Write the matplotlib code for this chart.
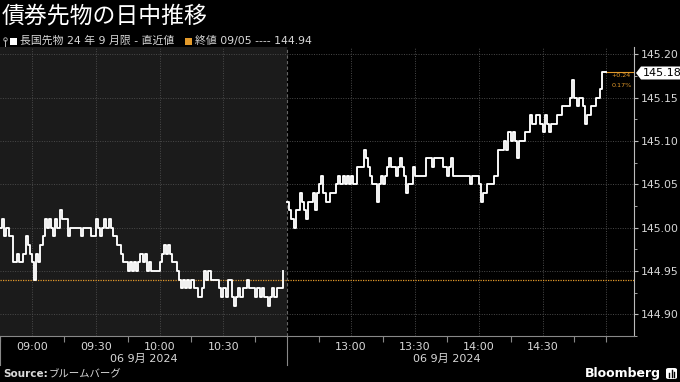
import matplotlib.pyplot as plt
import numpy as np
from matplotlib.lines import Line2D
from matplotlib.patches import Rectangle, FancyBboxPatch, Polygon

# 前場 08:45-10:58, 1分刻み
am_start = "08:45"
am_prices = [
    145.00, 145.01, 144.99, 145.00, 144.99, 144.99, 144.96, 144.96, 144.97, 144.96,
    144.96, 144.97, 144.99, 144.98, 144.97, 144.96, 144.94, 144.97, 144.96, 144.98,
    144.99, 145.01, 145.00, 145.01, 145.00, 144.99, 145.01, 145.00, 145.02, 145.01,
    145.01, 145.01, 144.99, 145.00, 145.00, 145.00, 145.00, 145.00, 144.99, 145.00,
    145.00, 145.00, 145.00, 144.99, 144.99, 145.01, 145.00, 144.99, 145.00, 145.01,
    145.00, 145.01, 145.00, 144.99, 144.99, 144.98, 144.98, 144.97, 144.96, 144.96,
    144.95, 144.96, 144.95, 144.96, 144.95, 144.96, 144.97, 144.96, 144.97, 144.95,
    144.96, 144.95, 144.95, 144.95, 144.95, 144.96, 144.97, 144.98, 144.97, 144.98,
    144.97, 144.96, 144.96, 144.95, 144.94, 144.93, 144.94, 144.93, 144.94, 144.93,
    144.94, 144.93, 144.93, 144.92, 144.92, 144.93, 144.95, 144.94, 144.95, 144.94,
    144.94, 144.94, 144.94, 144.93, 144.92, 144.93, 144.92, 144.94, 144.94, 144.92,
    144.91, 144.92, 144.93, 144.92, 144.93, 144.93, 144.94, 144.93, 144.93, 144.93,
    144.92, 144.93, 144.92, 144.93, 144.92, 144.92, 144.91, 144.92, 144.93, 144.92,
    144.93, 144.93, 144.93, 144.95,
]

# 後場 12:30-15:00, 1分刻み
pm_start = "12:30"
pm_prices = [
    145.03, 145.02, 145.01, 145.00, 145.02, 145.02, 145.04, 145.03, 145.02, 145.01,
    145.03, 145.03, 145.04, 145.02, 145.04, 145.05, 145.06, 145.04, 145.03, 145.03,
    145.04, 145.04, 145.04, 145.05, 145.06, 145.05, 145.06, 145.05, 145.06, 145.05,
    145.06, 145.05, 145.05, 145.07, 145.07, 145.07, 145.09, 145.08, 145.07, 145.06,
    145.05, 145.05, 145.03, 145.05, 145.06, 145.05, 145.06, 145.07, 145.08, 145.07,
    145.07, 145.06, 145.07, 145.08, 145.07, 145.06, 145.04, 145.05, 145.05, 145.07,
    145.06, 145.06, 145.06, 145.06, 145.06, 145.08, 145.08, 145.08, 145.07, 145.08,
    145.08, 145.08, 145.08, 145.07, 145.07, 145.06, 145.07, 145.08, 145.06, 145.06,
    145.06, 145.06, 145.06, 145.06, 145.06, 145.06, 145.05, 145.06, 145.06, 145.06,
    145.05, 145.03, 145.04, 145.04, 145.05, 145.05, 145.05, 145.06, 145.06, 145.09,
    145.09, 145.09, 145.10, 145.09, 145.11, 145.10, 145.11, 145.10, 145.08, 145.10,
    145.10, 145.10, 145.11, 145.11, 145.13, 145.12, 145.12, 145.13, 145.13, 145.12,
    145.11, 145.13, 145.12, 145.11, 145.12, 145.12, 145.12, 145.13, 145.13, 145.14,
    145.14, 145.14, 145.14, 145.15, 145.17, 145.15, 145.14, 145.15, 145.15, 145.14,
    145.12, 145.13, 145.13, 145.14, 145.14, 145.15, 145.15, 145.16, 145.18, 145.18,
    145.18,
]

prev_close = 144.94
prev_date = "09/05"
last_price = 145.18
change_txt = ["+0.24", "0.17%"]
time_labels = ["09:00", "09:30", "10:00", "10:30", "13:00", "13:30", "14:00", "14:30"]
date_label = "06 9月 2024"
yticks = [144.90, 144.95, 145.00, 145.05, 145.10, 145.15, 145.20]

CJK = ["DejaVu Sans", "Noto Sans CJK JP"]
ORANGE = "#e39a2b"
GRID = "#4a4a4a"
TXT = "#d8d8d8"
W, H = 680, 382


def to_min(s):
    h, m = s.split(":")
    return int(h) * 60 + int(m)


# 昼休みを詰めた横軸(分): 08:45=0, 11:00=12:30=135
AM0 = to_min("08:45")
GAP = to_min("12:30") - to_min("11:00")


def xpos(s):
    t = to_min(s)
    if t >= to_min("12:30"):
        t -= GAP
    return t - AM0


def fpx(x, y):
    # ピクセル座標 -> figure座標
    return x / W, 1 - y / H


am_x = xpos(am_start) + np.arange(len(am_prices))
pm_x = xpos(pm_start) + np.arange(len(pm_prices))
brk = xpos("12:30")

fig = plt.figure(figsize=(6.8, 3.82), dpi=100, facecolor="black")
ax = fig.add_axes([0, 0.1204, 634 / W, 0.7566])
ax.set_facecolor("black")
ax.set_xlim(0, 298)
ax.set_ylim(144.8849, 145.2084)

ax.axvspan(0, brk, color="#1b1b1b", zorder=0, lw=0)
ax.axvline(brk, color="#666666", ls=(0, (3, 2)), lw=0.8, zorder=1)

for y in yticks:
    ax.axhline(y, color=GRID, ls=(0, (1, 1.5)), lw=0.7, zorder=1)
grid_x = [xpos(t) for t in time_labels] + [xpos("15:00")]
for gx in grid_x:
    ax.axvline(gx, color=GRID, ls=(0, (1, 1.5)), lw=0.7, zorder=1)

ax.axhline(prev_close, color=ORANGE, ls=(0, (1, 1)), lw=0.9, zorder=2)

ax.plot(am_x, am_prices, color="white", lw=1.35, zorder=3, drawstyle="steps-post")
ax.plot(pm_x, pm_prices, color="white", lw=1.35, zorder=3, drawstyle="steps-post")

# 直近値の線と変化幅
ax.plot([pm_x[-1], 298], [last_price, last_price], color=ORANGE, lw=0.8, zorder=2)
ax.text(pm_x[-1] + 2.5, last_price - 0.0045, change_txt[0], color=ORANGE,
        fontsize=4.6, va="center", ha="left", zorder=6)
ax.text(pm_x[-1] + 2.5, last_price - 0.016, change_txt[1], color=ORANGE,
        fontsize=4.6, va="center", ha="left", zorder=6)

for side in ["left", "top"]:
    ax.spines[side].set_visible(False)
ax.spines["right"].set_color("#bbbbbb")
ax.spines["bottom"].set_color("#888888")
ax.spines["right"].set_linewidth(0.8)
ax.spines["bottom"].set_linewidth(0.8)

ax.yaxis.tick_right()
ax.set_yticks(yticks)
ax.set_yticklabels([f"{v:.2f}" for v in yticks])
ax.set_yticks(np.arange(144.875, 145.21, 0.025), minor=True)
ax.tick_params(axis="y", which="major", colors="#bbbbbb", labelcolor=TXT,
               length=3, width=0.8, pad=2, labelsize=7.8)
ax.tick_params(axis="y", which="minor", colors="#bbbbbb", length=2, width=0.6)

ax.set_xticks([xpos(t) for t in time_labels])
ax.set_xticklabels(time_labels)
minor_t = ["08:45", "09:15", "09:45", "10:15", "10:45", "12:45", "13:15",
           "13:45", "14:15", "14:45", "15:00"]
ax.set_xticks([xpos(t) for t in minor_t], minor=True)
ax.tick_params(axis="x", which="major", length=0, pad=4, labelcolor=TXT,
               labelsize=8)
ax.tick_params(axis="x", which="minor", length=4, width=0.8, colors="#888888")

# セッション区切り線(軸の下まで)
for sx in [0, brk]:
    ax.add_line(Line2D([sx, sx], [0, -0.1], transform=ax.get_xaxis_transform(),
                       color="#888888", lw=0.8, clip_on=False))

trans = ax.get_xaxis_transform()
ax.text(brk / 2, -0.078, date_label, transform=trans, ha="center", va="center",
        color=TXT, fontsize=8, family=CJK)
ax.text((brk + xpos("15:00")) / 2, -0.078, date_label, transform=trans,
        ha="center", va="center", color=TXT, fontsize=8, family=CJK)

# 直近値ラベル(左向き矢印付きの白い箱)
ly = 73
box = [fpx(636, ly), fpx(641, ly - 6.5), fpx(680, ly - 6.5),
       fpx(680, ly + 6.5), fpx(641, ly + 6.5)]
fig.add_artist(Polygon(box, closed=True, fc="white", ec="none"))
fig.text(*fpx(642.5, ly), f"{last_price:.2f}", color="black",
         fontsize=8, ha="left", va="center")

# タイトルと凡例
fig.text(*fpx(2, 16), "債券先物の日中推移", color="white",
         fontsize=16.5, family=["Noto Sans CJK JP"], va="center", ha="left")

fig.add_artist(Line2D([5 / W, 5 / W], [1 - 40 / H, 1 - 46 / H],
                      color="#bbbbbb", lw=0.7))
fig.add_artist(Line2D([5 / W], [1 - 39 / H], marker="o", ms=2.5,
                      mfc="none", mec="#bbbbbb", mew=0.6))
fig.add_artist(Rectangle(fpx(10, 45), 7 / W, 7 / H, fc="white", ec="none"))
fig.text(*fpx(20, 41), "長国先物 24 年 9 月限 - 直近値", color=TXT,
         fontsize=7.8, family=CJK, va="center", ha="left")
fig.add_artist(Rectangle(fpx(185, 45), 7 / W, 7 / H, fc=ORANGE, ec="none"))
fig.text(*fpx(195, 41), f"終値 {prev_date} ---- {prev_close:.2f}",
         color=TXT, fontsize=7.8, family=CJK, va="center", ha="left")

# フッター
fig.text(*fpx(3, 374), "Source:", color=TXT, fontsize=7.5,
         fontweight="bold", va="center", ha="left")
fig.text(*fpx(49, 374), "ブルームバーグ", color=TXT, fontsize=7.5,
         family=["Noto Sans CJK JP"], va="center", ha="left")
fig.text(*fpx(661, 373), "Bloomberg", color="white", fontsize=9,
         fontweight="bold", va="center", ha="right")
fig.add_artist(FancyBboxPatch(fpx(666, 379), 11 / W, 11 / H,
                              boxstyle="round,pad=0,rounding_size=0.004",
                              fc="white", ec="none"))
for bx, bh in [(669, 4), (671.5, 7), (674, 5)]:
    fig.add_artist(Line2D([bx / W, bx / W], [1 - 377 / H, 1 - (377 - bh) / H],
                          color="black", lw=1.0))

fig.savefig("out.png", dpi=100, facecolor="black")
